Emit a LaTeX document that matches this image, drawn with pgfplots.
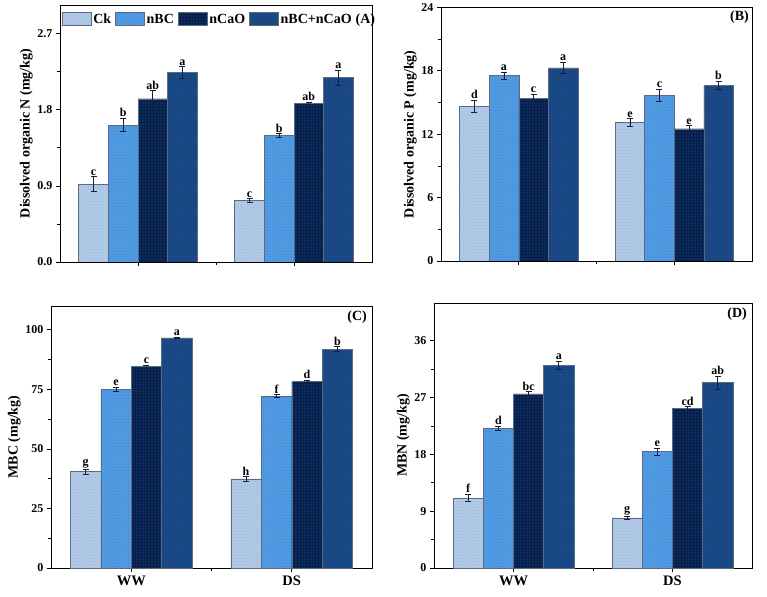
\documentclass[border=0pt]{standalone}
\usepackage{fontspec}
\setmainfont{Liberation Serif}
\usepackage{pgfplots}
\usepackage{pgfplotstable}
\usetikzlibrary{patterns}
\pgfplotsset{compat=1.18}
\definecolor{cCk}{HTML}{B3CBE8}
\definecolor{cCkP}{HTML}{98B4D8}
\definecolor{cBC}{HTML}{4A96E0}
\definecolor{cCa}{HTML}{0B2B63}
\definecolor{cBCa}{HTML}{1B4A88}
\definecolor{cEdge}{HTML}{5A6A80}
\definecolor{cErr}{HTML}{1A1A3A}

\pgfplotstableread{
x y1 e1 l1 y2 e2 l2 y3 e3 l3 y4 e4 l4
1 0.92 0.09 c 1.62 0.08 b 1.93 0.10 ab 2.24 0.07 a
2 0.73 0.02 c 1.50 0.02 b 1.88 0.01 ab 2.18 0.09 a
}\tA
\pgfplotstableread{
x y1 e1 l1 y2 e2 l2 y3 e3 l3 y4 e4 l4
1 14.63 0.60 d 17.56 0.33 a 15.42 0.36 c 18.29 0.55 a
2 13.14 0.36 e 15.70 0.58 c 12.51 0.33 e 16.65 0.38 b
}\tB
\pgfplotstableread{
x y1 e1 l1 y2 e2 l2 y3 e3 l3 y4 e4 l4
1 40.5 1.0 g 75.0 1.0 e 84.5 0.6 c 96.6 0.3 a
2 37.4 1.0 h 72.2 0.6 f 78.3 0.5 d 91.9 1.0 b
}\tC
\pgfplotstableread{
x y1 e1 l1 y2 e2 l2 y3 e3 l3 y4 e4 l4
1 11.10 0.60 f 22.10 0.35 d 27.60 0.37 bc 32.10 0.65 a
2 7.96 0.20 g 18.45 0.58 e 25.26 0.34 cd 29.37 1.08 ab
}\tD

\pgfplotsset{
  panel/.style={
    scale only axis, anchor=south west,
    ybar=0pt, bar width=0.19,
    xmin=0.5, xmax=2.5, xtick={1,2}, minor xtick={1.5}, ymin=0,
    axis line style={line width=0.9pt},
    tick style={line width=0.8pt, black},
    tick align=outside, xtick pos=bottom, ytick pos=left,
    major tick length=4pt, minor tick length=3pt, minor y tick num=1,
    /pgf/number format/assume math mode=true,
    tick label style={font=\fontsize{12}{14}\selectfont\bfseries},
    label style={font=\fontsize{14}{16}\selectfont\bfseries},
    ylabel style={yshift=-2pt},
    xticklabel style={font=\fontsize{14.5}{16}\selectfont\bfseries},
    error bars/y dir=both, error bars/y explicit,
    error bars/error bar style={line width=0.7pt, color=cErr},
    error bars/error mark options={rotate=90, mark size=3pt, line width=0.7pt, color=cErr},
    point meta=explicit symbolic,
    nodes near coords,
    every node near coord/.append style={font=\fontsize{12}{14}\selectfont\bfseries, inner sep=1pt, black},
    legend image code/.code={\draw[##1] (0pt,-6.5pt) rectangle (29pt,6.5pt);},
  },
  ser/.style={draw=cEdge, line width=0.5pt, fill=#1},
  lab/.style={visualization depends on={\thisrow{#1}\as\err},
    every node near coord/.append style={shift={(axis direction cs:0,\err)}}},
  pCk/.style={ser=cCk, postaction={pattern=crosshatch dots, pattern color=cCkP}},
  pBC/.style={ser=cBC, postaction={pattern=crosshatch dots, pattern color=cBC!85!white}},
  pCa/.style={ser=cCa, postaction={pattern=grid, pattern color=cCa!70!black}},
  pBCa/.style={ser=cBCa, postaction={pattern=crosshatch dots, pattern color=cBCa!85!black}},
}

\begin{document}
\begin{tikzpicture}
\path[use as bounding box] (0pt,0pt) rectangle (767pt,596pt);
% ---- A
\begin{axis}[panel, at={(60pt,334pt)}, width=312pt, height=257pt,
  ymax=3.04, ytick={0,0.9,1.8,2.7}, xticklabels={,},
  yticklabel style={/pgf/number format/.cd, fixed, fixed zerofill, precision=1},
  ylabel={Dissolved organic N (mg/kg)},
  legend style={at={(0.005,0.975)}, anchor=north west, draw=none, fill=none,
    font=\fontsize{14}{16}\selectfont\bfseries, inner sep=0pt,
    /tikz/every even column/.append style={column sep=2pt}},
  legend columns=4]
\addplot[pCk, lab=e1] table[x=x, y=y1, y error=e1, meta=l1]{\tA};
\addplot[pBC, lab=e2] table[x=x, y=y2, y error=e2, meta=l2]{\tA};
\addplot[pCa, lab=e3] table[x=x, y=y3, y error=e3, meta=l3]{\tA};
\addplot[pBCa, lab=e4] table[x=x, y=y4, y error=e4, meta=l4]{\tA};
\legend{Ck,nBC,nCaO,nBC+nCaO\hspace{4pt}(A)}
\end{axis}
% ---- B
\begin{axis}[panel, at={(441pt,335pt)}, width=311pt, height=253.5pt,
  ymax=24, ytick={0,6,12,18,24}, xticklabels={,},
  ylabel={Dissolved organic P (mg/kg)}]
\addplot[pCk, lab=e1] table[x=x, y=y1, y error=e1, meta=l1]{\tB};
\addplot[pBC, lab=e2] table[x=x, y=y2, y error=e2, meta=l2]{\tB};
\addplot[pCa, lab=e3] table[x=x, y=y3, y error=e3, meta=l3]{\tB};
\addplot[pBCa, lab=e4] table[x=x, y=y4, y error=e4, meta=l4]{\tB};
\node[anchor=north east, font=\fontsize{14}{16}\selectfont\bfseries, inner sep=3pt] at (rel axis cs:1,1) {(B)};
\end{axis}
% ---- C
\begin{axis}[panel, at={(51pt,28pt)}, width=321pt, height=262pt,
  ymax=110, ytick={0,25,50,75,100}, xticklabels={WW,DS},
  ylabel={MBC (mg/kg)}]
\addplot[pCk, lab=e1] table[x=x, y=y1, y error=e1, meta=l1]{\tC};
\addplot[pBC, lab=e2] table[x=x, y=y2, y error=e2, meta=l2]{\tC};
\addplot[pCa, lab=e3] table[x=x, y=y3, y error=e3, meta=l3]{\tC};
\addplot[pBCa, lab=e4] table[x=x, y=y4, y error=e4, meta=l4]{\tC};
\node[anchor=north east, font=\fontsize{14}{16}\selectfont\bfseries, inner sep=5pt] at (rel axis cs:1,1) {(C)};
\end{axis}
% ---- D
\begin{axis}[panel, at={(434pt,28pt)}, width=318pt, height=265pt,
  ymax=42, ytick={0,9,18,27,36}, xticklabels={WW,DS},
  ylabel={MBN (mg/kg)}]
\addplot[pCk, lab=e1] table[x=x, y=y1, y error=e1, meta=l1]{\tD};
\addplot[pBC, lab=e2] table[x=x, y=y2, y error=e2, meta=l2]{\tD};
\addplot[pCa, lab=e3] table[x=x, y=y3, y error=e3, meta=l3]{\tD};
\addplot[pBCa, lab=e4] table[x=x, y=y4, y error=e4, meta=l4]{\tD};
\node[anchor=north east, font=\fontsize{14}{16}\selectfont\bfseries, inner sep=5pt] at (rel axis cs:1,1) {(D)};
\end{axis}
\end{tikzpicture}
\end{document}
